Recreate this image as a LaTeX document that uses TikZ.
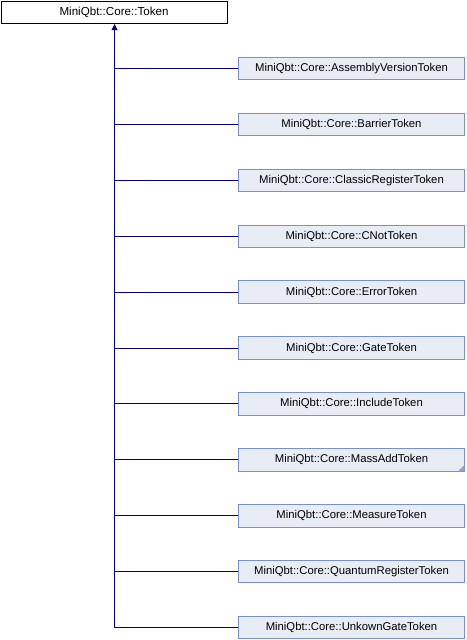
\documentclass[tikz,border=0pt]{standalone}
\usepackage{fontspec}
\setmainfont{Liberation Sans}
\begin{document}
\begin{tikzpicture}[x=1pt,y=-1pt,
  base/.style={draw=black,fill=white,line width=0.9pt,minimum width=226pt,minimum height=22pt,inner sep=0pt,font=\fontsize{11.6}{13}\selectfont},
  child/.style={draw=bordblue,fill=fillblue,line width=0.9pt,minimum width=226pt,minimum height=22.5pt,inner sep=0pt,font=\fontsize{11.3}{13}\selectfont},
  conn/.style={draw=navy,line width=0.9pt}]
\definecolor{bordblue}{HTML}{7A91C6}
\definecolor{fillblue}{HTML}{E8ECF5}
\definecolor{navy}{HTML}{000080}
\definecolor{triblue}{HTML}{8FA3CF}
\useasboundingbox (0,0) rectangle (466,640);
\node[base] (tok) at (114,12) {MiniQbt::Core::Token};
\coordinate (bend) at (114.5,627.5);
\foreach \n/\t [count=\i from 0] in {a/AssemblyVersionToken,b/BarrierToken,c/ClassicRegisterToken,d/CNotToken,e/ErrorToken,f/GateToken,g/IncludeToken,h/MassAddToken,k/MeasureToken,l/QuantumRegisterToken,m/UnkownGateToken}{
  \node[child] (\n) at (351.5,{68.5+55.9*\i}) {MiniQbt::Core::\t};
  \coordinate (j\n) at (114.5,{68.5+55.9*\i});
  \draw[conn] (j\n) -- (\n.west);
}
\draw[conn] (bend) -- (114.5,29);
\fill[navy] (114.5,24) -- (117.5,30) -- (111.5,30) -- cycle;
\fill[triblue] (h.south east) ++(-0.5,-0.5) -- ++(0,-6) -- ++(-6,6) -- cycle;
\end{tikzpicture}
\end{document}
